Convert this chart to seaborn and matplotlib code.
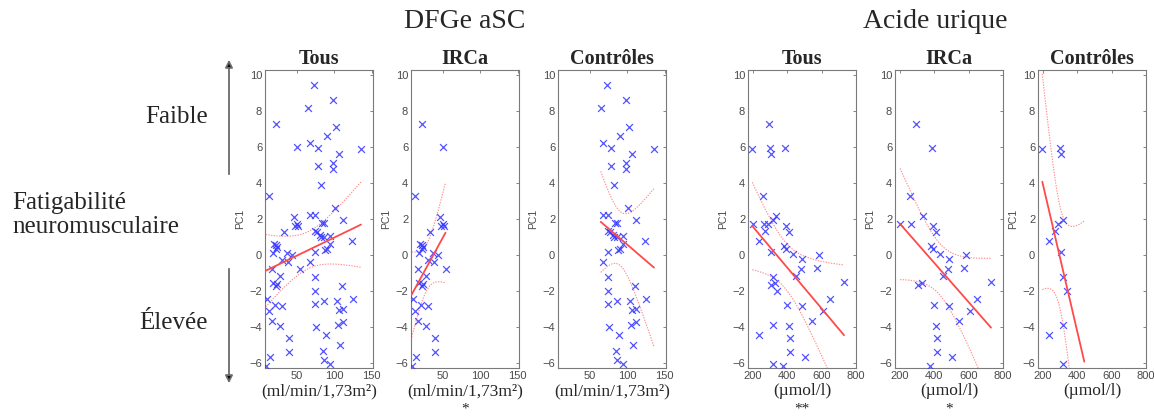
import numpy as np
import pandas as pd
import seaborn as sns
import matplotlib.pyplot as plt
from matplotlib.patches import FancyArrowPatch

# DFGe aSC (ml/min/1,73m2) vs PC1
dfge_irca_x = [22, 50, 13, 46, 48, 50, 52, 33, 20, 23, 22, 18, 24, 37, 44, 38, 30, 17, 54,
               19, 24, 28, 22, 11, 13, 21, 31, 17, 28, 40, 40, 14, 9]
dfge_irca_y = [7.3, 6.0, 3.3, 2.1, 1.6, 1.7, 1.6, 1.3, 0.6, 0.55, 0.35, 0.1, 0.45, 0.1, 0.0, -0.4,
               -0.3, -0.8, -0.8, -1.55, -1.6, -1.2, -1.75, -2.45, -3.1, -2.8, -2.85, -3.7, -3.95,
               -4.65, -5.4, -5.7, -6.2]
dfge_ctrl_x = [73, 99, 65, 102, 90, 68, 79, 136, 106, 98, 98, 78, 83, 101, 68, 74, 112, 84, 86,
               75, 77, 81, 83, 95, 87, 95, 124, 88, 90, 75, 68, 75, 111, 75, 75, 86, 104, 125,
               106, 112, 105, 112, 76, 89, 108, 85, 86, 95]
dfge_ctrl_y = [9.45, 8.65, 8.2, 7.15, 6.65, 6.25, 5.95, 5.9, 5.6, 5.1, 4.8, 4.95, 3.9, 2.6, 2.2,
               2.2, 1.95, 1.75, 1.75, 1.35, 1.25, 1.1, 1.0, 1.05, 1.0, 0.6, 0.75, 0.3, 0.35, 0.15,
               -0.4, -1.25, -1.75, -2.0, -2.75, -2.55, -2.55, -2.45, -3.05, -3.0, -3.9, -3.75,
               -4.0, -4.45, -5.0, -5.35, -5.85, -6.1]

# Acide urique (umol/l) vs PC1
ua_irca_x = [290, 385, 200, 265, 255, 335, 390, 410, 380, 390, 430, 485, 585, 570, 480, 450,
             730, 305, 330, 400, 485, 650, 605, 545, 410, 415, 415, 500, 375]
ua_irca_y = [7.3, 5.95, 1.7, 1.7, 3.3, 2.15, 1.6, 1.3, 0.5, 0.35, 0.05, -0.25, 0.0, -0.75, -0.8,
             -1.2, -1.5, -1.7, -1.55, -2.8, -2.85, -2.45, -3.1, -3.7, -3.95, -4.65, -5.4, -5.7,
             -6.2]
# last control point lies below the y range (the fit line runs out to it)
ua_ctrl_x = [195, 300, 302, 235, 285, 315, 270, 305, 318, 337, 318, 235, 318, 440]
ua_ctrl_y = [5.9, 5.95, 5.6, 0.75, 1.7, 1.95, 1.35, 0.15, -1.25, -2.0, -3.9, -4.45, -6.1, -7.6]

groups = ["Tous", "IRCa", "Contrôles"]
dfge_ticks = [50, 100, 150]
ua_ticks = [200, 400, 600, 800]
y_ticks = [-6, -4, -2, 0, 2, 4, 6, 8, 10]
signif_dfge = ["", "*", ""]
signif_ua = ["**", "*", ""]

W, H = 1154, 416
SERIF = ["Liberation Serif", "DejaVu Serif"]
SANS = ["Liberation Sans", "DejaVu Sans"]


def fit_with_bounds(x, y, n_pts=100):
    """Droite des moindres carres + bornes de confiance simultanees 95%."""
    x = np.asarray(x, float)
    y = np.asarray(y, float)
    n = len(x)
    b, a = np.polyfit(x, y, 1)
    res = y - (a + b * x)
    nu = n - 2
    s = np.sqrt(np.sum(res ** 2) / nu)
    sxx = np.sum((x - x.mean()) ** 2)
    f_crit = nu / 2 * (0.05 ** (-2 / nu) - 1)  # F(0.95; 2, nu)
    k = np.sqrt(2 * f_crit)
    xs = np.linspace(x.min(), x.max(), n_pts)
    yh = a + b * xs
    half = k * s * np.sqrt(1 / n + (xs - x.mean()) ** 2 / sxx)
    return pd.DataFrame({"x": xs, "fit": yh, "lo": yh - half, "hi": yh + half})


def draw_panel(ax, x, y, xlim, xticks, title, xlabel, star):
    df = pd.DataFrame({"x": x, "PC1": y})
    sns.scatterplot(data=df, x="x", y="PC1", ax=ax, marker="x", color="#3535ff",
                    s=24, linewidth=0.9, alpha=0.85, zorder=3)
    fit = fit_with_bounds(x, y)
    sns.lineplot(data=fit, x="x", y="fit", ax=ax, color="#ff4a4a", linewidth=1.3, zorder=4)
    for col in ["lo", "hi"]:
        sns.lineplot(data=fit, x="x", y=col, ax=ax, color="#ff8c8c", linewidth=0.8,
                     linestyle=(0, (1.2, 1.2)), zorder=2)
    ax.set_xlim(*xlim)
    ax.set_ylim(-6.3, 10.3)
    ax.set_xticks(xticks)
    ax.set_yticks(y_ticks)
    ax.tick_params(direction="in", length=2.5, width=0.6, colors="#707070",
                   labelcolor="#4a4a4a", labelsize=8, top=True, right=True, pad=2)
    for lab in ax.get_xticklabels() + ax.get_yticklabels():
        lab.set_family(SANS)
    for sp in ax.spines.values():
        sp.set_color("#7a7a7a")
        sp.set_linewidth(0.8)
    ax.set_ylabel("PC1", fontsize=7.5, color="#4a4a4a", family=SANS, labelpad=3)
    ax.set_xlabel("")
    ax.set_title(title, fontsize=14.5, fontweight="bold", family=SERIF, pad=4)
    cx = (ax.get_position().x0 + ax.get_position().x1) / 2
    ax.figure.text(cx, 1 - 391 / H, xlabel, ha="center", va="center", fontsize=12.5, family=SERIF)
    if star:
        ax.figure.text(cx, 0.0, star, ha="center", va="bottom", fontsize=11, family=SERIF)


sns.set_theme(style="white")
plt.rcParams["font.family"] = SERIF

fig = plt.figure(figsize=(W / 100, H / 100), dpi=100)

lefts = [265, 411, 558, 748, 895, 1038]
aw, top, bottom = 108, 70, 368

data = [
    (dfge_irca_x + dfge_ctrl_x, dfge_irca_y + dfge_ctrl_y),
    (dfge_irca_x, dfge_irca_y),
    (dfge_ctrl_x, dfge_ctrl_y),
    (ua_irca_x + ua_ctrl_x, ua_irca_y + ua_ctrl_y),
    (ua_irca_x, ua_irca_y),
    (ua_ctrl_x, ua_ctrl_y),
]

for i, (x, y) in enumerate(data):
    ax = fig.add_axes([lefts[i] / W, 1 - bottom / H, aw / W, (bottom - top) / H])
    if i < 3:
        draw_panel(ax, x, y, (8, 152), dfge_ticks, groups[i],
                   "(ml/min/1,73m²)", signif_dfge[i])
    else:
        draw_panel(ax, x, y, (170, 800), ua_ticks, groups[i - 3],
                   "(µmol/l)", signif_ua[i - 3])

fig.text(465 / W, 1 - 22 / H, "DFGe aSC", ha="center", va="center", fontsize=20)
fig.text(935 / W, 1 - 22 / H, "Acide urique", ha="center", va="center", fontsize=20)

fig.text(208 / W, 1 - 117 / H, "Faible", ha="right", va="center", fontsize=18)
fig.text(12 / W, 1 - 215 / H, "Fatigabilité\nneuromusculaire", ha="left", va="center",
         fontsize=18, linespacing=1.1)
fig.text(208 / W, 1 - 323 / H, "Élevée", ha="right", va="center", fontsize=18)

for y0, y1 in [(177, 57), (266, 386)]:
    arr = FancyArrowPatch((229 / W, 1 - y0 / H), (229 / W, 1 - y1 / H),
                          transform=fig.transFigure, arrowstyle="-|>", mutation_scale=11,
                          facecolor="black", edgecolor="#6a6a6a", linewidth=1.3)
    fig.add_artist(arr)

fig.savefig("out.png", dpi=100)
